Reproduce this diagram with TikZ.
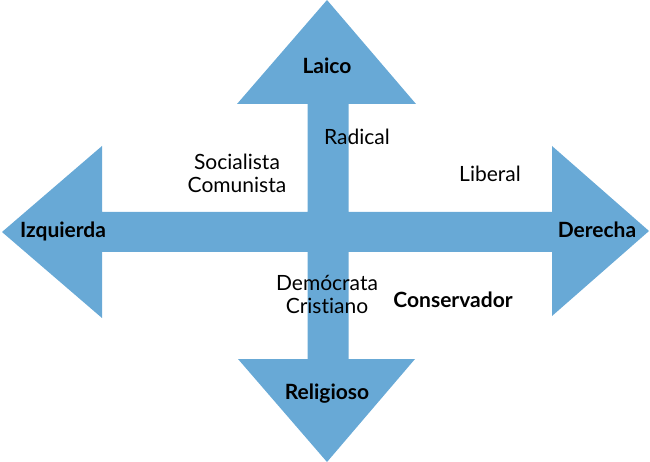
\documentclass[tikz,border=0pt]{standalone}
\usepackage{fontspec}
\setmainfont[Ligatures=NoCommon]{Lato}
\definecolor{arrowblue}{RGB}{104,169,214}
\begin{document}
\begin{tikzpicture}[x=1pt,y=-1pt,
  lab/.style={font=\fontsize{21}{23}\selectfont, text=black, inner sep=0pt, align=center},
  blab/.style={lab, font=\fontsize{21}{23}\selectfont\bfseries}]
\useasboundingbox (0,0) rectangle (650,462);
\fill[arrowblue] (327,0) -- (416,104) -- (348.5,104) -- (348.5,212) -- (552,212) -- (552,146)
  -- (649,231) -- (552,316) -- (552,252) -- (348.5,252) -- (348.5,359) -- (415,359)
  -- (327,462) -- (238,359) -- (307.5,359) -- (307.5,252) -- (102,252) -- (102,318)
  -- (2,232) -- (102,146) -- (102,212) -- (307.5,212) -- (307.5,104) -- (237,104) -- cycle;
\node[blab] (laico) at (327,66) {Laico};
\node[blab] (religioso) at (327,394) {Religioso};
\node[blab] (izq) at (63,231) {Izquierda};
\node[blab] (der) at (597,230) {Derecha};
\node[lab] (radical) at (357,137) {Radical};
\node[lab] (soc) at (237,173) {Socialista\\Comunista};
\node[lab] (liberal) at (490,174) {Liberal};
\node[lab] (dem) at (327,294) {Demócrata\\Cristiano};
\node[blab] (cons) at (453,300) {Conservador};
\end{tikzpicture}
\end{document}
